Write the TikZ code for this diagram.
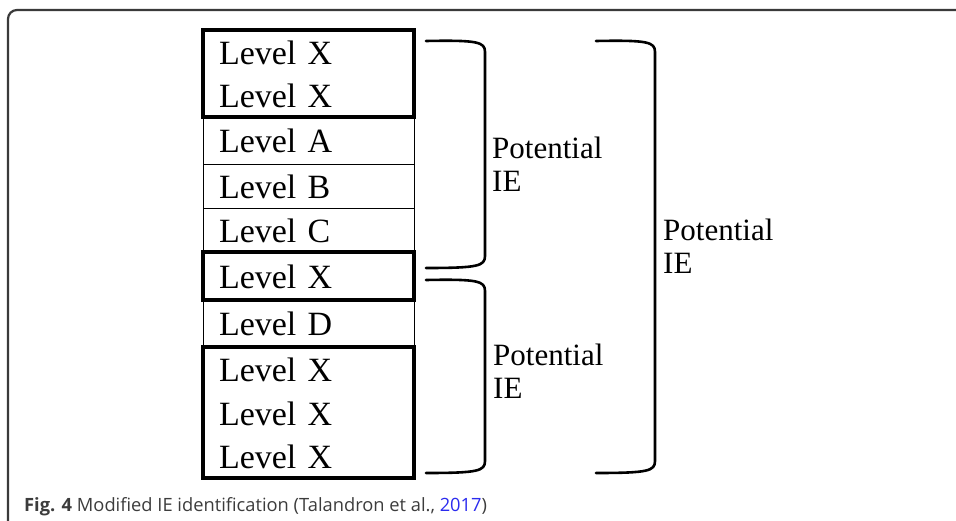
\documentclass[tikz,border=0pt]{standalone}
\usepackage{fontspec}
\setmainfont{Liberation Serif}
\newfontfamily\capfont{Open Sans}
\usepackage{tikz}
\usetikzlibrary{calc}
\usetikzlibrary{positioning}
\definecolor{framegray}{HTML}{3A3A3A}
\definecolor{capgray}{HTML}{3C3C3C}
\definecolor{linkblue}{HTML}{2B2BEE}
\tikzset{lvl/.style={rectangle,draw=black,line width=0.9pt,outer sep=0pt,inner xsep=16pt,inner ysep=0pt,text width=179pt,align=left,text height=25pt,text depth=0pt,font=\fontsize{34}{40}\selectfont}}
\tikzset{lvlx/.style={lvl,draw=none}}
\tikzset{grpbox/.style={draw=black,line width=3.5pt}}
\tikzset{ibrace/.style={draw=black,line width=2.6pt,line cap=round}}
\tikzset{ielabel/.style={anchor=north west,inner sep=0pt,align=left,font=\fontsize{31}{33}\selectfont}}

\begin{document}
\begin{tikzpicture}[x=1pt,y=-1pt]
\useasboundingbox (0,0) rectangle (956,521);
  % frame
  \coordinate (fb) at (8,530);
  \coordinate (ft) at (960,10);
  \draw[framegray,line width=2.2pt,rounded corners=9pt] (fb) |- (ft);

  % column of levels
  \node[lvlx, minimum height=43.5pt, anchor=north] (x1) at (308.5,30) {Level X};
  \node[lvlx, minimum height=43.5pt, below=0pt of x1] (x2) {Level X};
  \node[lvl, minimum height=47pt, below=0pt of x2] (la) {Level A};
  \node[lvl, minimum height=44pt, below=0pt of la] (lb) {Level B};
  \node[lvl, minimum height=44pt, below=0pt of lb] (lc) {Level C};
  \node[lvlx, minimum height=48pt, below=0pt of lc] (x3) {Level X};
  \node[lvl, minimum height=47pt, below=0pt of x3] (ld) {Level D};
  \node[lvlx, minimum height=43.7pt, below=0pt of ld] (x4) {Level X};
  \node[lvlx, minimum height=43.7pt, below=0pt of x4] (x5) {Level X};
  \node[lvlx, minimum height=43.7pt, below=0pt of x5] (x6) {Level X};
  \draw[grpbox] (x1.north west) rectangle (x2.south east);
  \draw[grpbox] (x3.north west) rectangle (x3.south east);
  \draw[grpbox] (x4.north west) rectangle (x6.south east);

  % brace ends
  \coordinate (b1t) at (426,41);
  \coordinate (b1b) at (426,268);
  \coordinate (b2t) at (426,280);
  \coordinate (b2b) at (426,473);
  \coordinate (b3t) at (596,41);
  \coordinate (b3b) at (596,473);
  \draw[ibrace] (b1t) .. controls (478,40) and (485,42) .. (485,52) -- (485,256) .. controls (485,266) and (478,268) .. (b1b);
  \draw[ibrace] (b2t) .. controls (478,279) and (485,281) .. (485,291) -- (485,461) .. controls (485,471) and (478,473) .. (b2b);
  \draw[ibrace] (b3t) .. controls (648,40) and (655,42) .. (655,52) -- (655,461) .. controls (655,471) and (648,473) .. (b3b);

  % labels
  \node[ielabel] (ie1) at (492,137) {Potential\\IE};
  \node[ielabel] (ie2) at (493,344) {Potential\\IE};
  \node[ielabel] (ie3) at (663,219) {Potential\\IE};

  % caption
  \node[anchor=base west,inner sep=0pt,text=capgray,font=\capfont\fontsize{18.3}{22}\selectfont] (cap) at (24,511)
    {\textbf{Fig. 4} Modified IE identification (Talandron et al., \textcolor{linkblue}{2017})};
\end{tikzpicture}
\end{document}
